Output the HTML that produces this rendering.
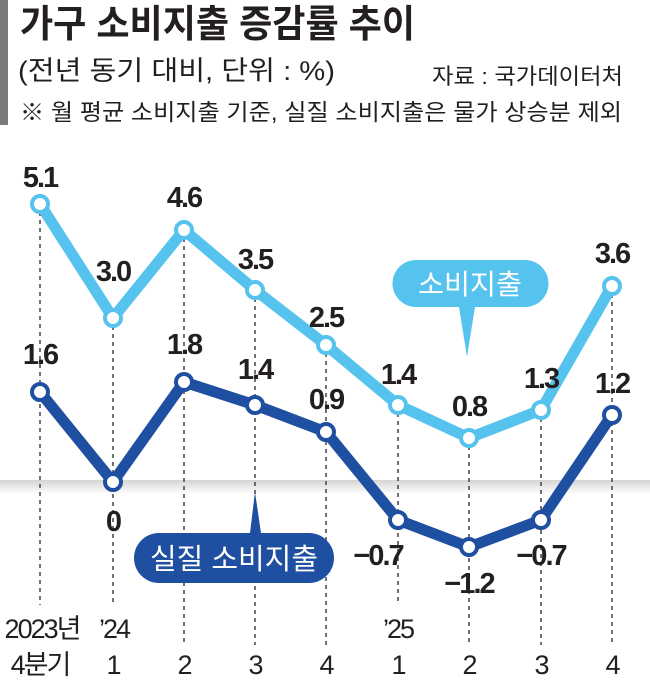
<!DOCTYPE html>
<html><head><meta charset="utf-8"><style>
body{margin:0;background:#fff;}
svg{display:block;font-family:"Liberation Sans","Noto Sans CJK KR",sans-serif;}
</style></head><body>
<svg width="650" height="683" viewBox="0 0 650 683" xmlns="http://www.w3.org/2000/svg">
<defs>
<linearGradient id="band" x1="0" y1="0" x2="0" y2="1">
<stop offset="0" stop-color="#d4d4d4"/><stop offset="1" stop-color="#ffffff"/>
</linearGradient>
</defs>
<rect x="0" y="0" width="8" height="125" fill="#7a7a7a"/>
<text x="20" y="37" font-size="38" font-weight="bold" fill="#231f20" textLength="395" lengthAdjust="spacingAndGlyphs">가구 소비지출 증감률 추이</text>
<text x="18" y="80" font-size="27" fill="#231f20" textLength="317" lengthAdjust="spacingAndGlyphs">(전년 동기 대비, 단위 : %)</text>
<text x="432" y="84" font-size="22" fill="#231f20" textLength="191" lengthAdjust="spacingAndGlyphs">자료 : 국가데이터처</text>
<text x="20" y="120" font-size="23" fill="#231f20" textLength="602" lengthAdjust="spacingAndGlyphs">※ 월 평균 소비지출 기준, 실질 소비지출은 물가 상승분 제외</text>
<rect x="0" y="480" width="650" height="14" fill="url(#band)"/>
<g stroke="#444" stroke-width="1.5" stroke-dasharray="4,4">
<line x1="40" y1="204" x2="40" y2="605"/>
<line x1="113" y1="318" x2="113" y2="605"/>
<line x1="184" y1="230" x2="184" y2="645"/>
<line x1="255" y1="290" x2="255" y2="645"/>
<line x1="326" y1="345" x2="326" y2="645"/>
<line x1="398" y1="405" x2="398" y2="605"/>
<line x1="469" y1="438" x2="469" y2="645"/>
<line x1="541" y1="410" x2="541" y2="645"/>
<line x1="612" y1="286" x2="612" y2="645"/>
</g>
<polyline points="40,204 113,318 184,230 255,290 326,345 398,405 469,438 541,410 612,286" fill="none" stroke="#56c3ee" stroke-width="11" stroke-linejoin="round"/>
<polyline points="40,392 113,482 184,382 255,405 326,432 398,520 469,547 541,520 612,415" fill="none" stroke="#1f4fa0" stroke-width="11" stroke-linejoin="round"/>
<g fill="#fff" stroke="#56c3ee" stroke-width="4">
<circle cx="40" cy="204" r="8"/><circle cx="113" cy="318" r="8"/><circle cx="184" cy="230" r="8"/><circle cx="255" cy="290" r="8"/><circle cx="326" cy="345" r="8"/><circle cx="398" cy="405" r="8"/><circle cx="469" cy="438" r="8"/><circle cx="541" cy="410" r="8"/><circle cx="612" cy="286" r="8"/>
</g>
<g fill="#fff" stroke="#1f4fa0" stroke-width="4">
<circle cx="40" cy="392" r="8"/><circle cx="113" cy="482" r="8"/><circle cx="184" cy="382" r="8"/><circle cx="255" cy="405" r="8"/><circle cx="326" cy="432" r="8"/><circle cx="398" cy="520" r="8"/><circle cx="469" cy="547" r="8"/><circle cx="541" cy="520" r="8"/><circle cx="612" cy="415" r="8"/>
</g>
<path d="M416,260 H525 A23,23 0 0 1 525,307 H475 L467,357 L459,307 H416 A23,23 0 0 1 416,260 Z" fill="#56c3ee"/>
<text x="470" y="294" font-size="28" fill="#fff" text-anchor="middle" textLength="104" lengthAdjust="spacingAndGlyphs">소비지출</text>
<path d="M159,533 H250 L255,492 L261,533 H309 A25,25 0 0 1 309,583 H159 A25,25 0 0 1 159,533 Z" fill="#1f4fa0"/>
<text x="234" y="569" font-size="29" fill="#fff" text-anchor="middle" textLength="168" lengthAdjust="spacingAndGlyphs">실질 소비지출</text>
<g font-size="29" font-weight="bold" fill="#231f20" text-anchor="middle" letter-spacing="-2">
<text x="40" y="187">5.1</text><text x="113" y="281">3.0</text><text x="184" y="207">4.6</text><text x="255" y="269">3.5</text><text x="326" y="327">2.5</text><text x="398" y="384">1.4</text><text x="469" y="416">0.8</text><text x="541" y="388">1.3</text><text x="612" y="263">3.6</text>
<text x="40" y="364">1.6</text><text x="113" y="531">0</text><text x="184" y="354">1.8</text><text x="255" y="379">1.4</text><text x="326" y="409">0.9</text><text x="378" y="565">−0.7</text><text x="469" y="593">−1.2</text><text x="541" y="565">−0.7</text><text x="612" y="393">1.2</text>
</g>
<g font-size="27" fill="#231f20" text-anchor="middle" letter-spacing="-2">
<text x="42" y="638">2023년</text><text x="114" y="638">’24</text><text x="398" y="638">’25</text>
<text x="40" y="674">4분기</text><text x="113" y="674">1</text><text x="184" y="674">2</text><text x="255" y="674">3</text><text x="326" y="674">4</text><text x="398" y="674">1</text><text x="469" y="674">2</text><text x="541" y="674">3</text><text x="612" y="674">4</text>
</g>
</svg>
</body></html>
